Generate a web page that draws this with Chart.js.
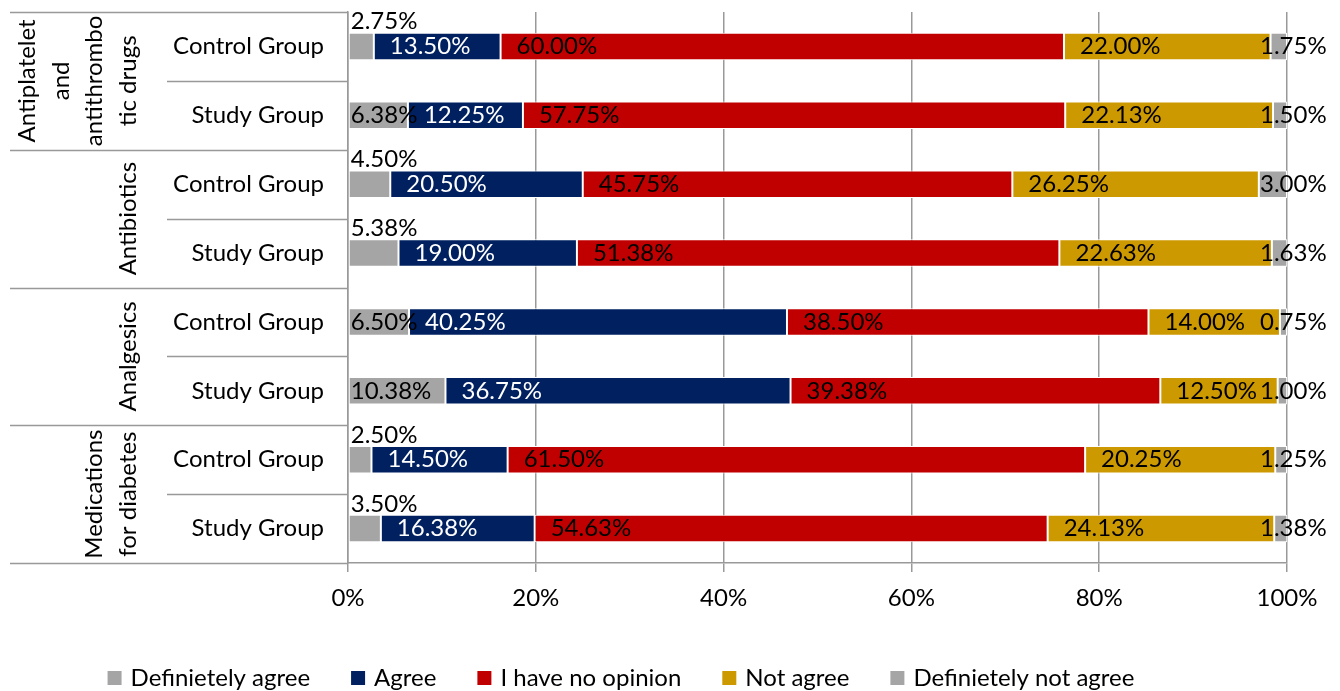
<!DOCTYPE html>
<html>
<head>
<meta charset="utf-8">
<script src="https://cdn.jsdelivr.net/npm/chart.js@4.4.1/dist/chart.umd.min.js"></script>
<style>
    body { margin: 0; background: #fff; }
    #wrap { width: 1340px; height: 691px; }
</style>
</head>
<body>
<div id="wrap"><canvas id="surveyChart" width="1340" height="691"></canvas></div>
<script>
'use strict';

// chart data

const rowLabels = ['Control Group', 'Study Group', 'Control Group', 'Study Group', 'Control Group', 'Study Group', 'Control Group', 'Study Group']
const groupLabels = [
    ['Antiplatelet', 'and', 'antithrombo', 'tic drugs'],
    ['Antibiotics'],
    ['Analgesics'],
    ['Medications', 'for diabetes']
]
const seriesNames = ['Definietely agree', 'Agree', 'I have no opinion', 'Not agree', 'Definietely not agree']

const definitelyAgree = [2.75, 6.38, 4.50, 5.38, 6.50, 10.38, 2.50, 3.50]
const agree = [13.50, 12.25, 20.50, 19.00, 40.25, 36.75, 14.50, 16.38]
const noOpinion = [60.00, 57.75, 45.75, 51.38, 38.50, 39.38, 61.50, 54.63]
const notAgree = [22.00, 22.13, 26.25, 22.63, 14.00, 12.50, 20.25, 24.13]
const definitelyNotAgree = [1.75, 1.50, 3.00, 1.63, 0.75, 1.00, 1.25, 1.38]

const xTicks = [0, 20, 40, 60, 80, 100]

const seriesColors = ['#a5a5a5', '#002060', '#c00000', '#cc9900', '#a5a5a5']
const labelColors = ['#000', '#fff', '#000', '#000', '#000']

const fontFamily = 'Lato, "Open Sans", sans-serif'
const fontSize = 24
const lineColor = '#999999'

const allSeries = [definitelyAgree, agree, noOpinion, notAgree, definitelyNotAgree]

// data labels, excel style "inside base"

const dataLabelsPlugin = {
    id: 'dataLabels',
    afterDatasetsDraw(chart) {
        const ctx = chart.ctx
        const area = chart.chartArea
        ctx.save()
        ctx.font = `${fontSize}px ${fontFamily}`
        ctx.textBaseline = 'middle'
        ctx.textAlign = 'left'

        chart.data.datasets.forEach((dataset, dsIndex) => {
            const meta = chart.getDatasetMeta(dsIndex)
            meta.data.forEach((bar, i) => {
                const value = dataset.data[i]
                const text = value.toFixed(2) + '%'
                const start = Math.min(bar.x, bar.base)
                let x = start + 16
                let y = bar.y

                if (dsIndex === 0) {
                    x = start + 2
                    if (value < 6) {
                        y = bar.y - bar.height / 2 - 11
                    }
                } else if (dsIndex === 4) {
                    x = area.right - 27
                }

                ctx.fillStyle = labelColors[dsIndex]
                ctx.fillText(text, x, y)
            })
        })
        ctx.restore()
    }
}

// grouped category axis + legend

const groupAxisPlugin = {
    id: 'groupAxis',
    afterDraw(chart) {
        const ctx = chart.ctx
        const area = chart.chartArea
        const yScale = chart.scales.y
        const axisX = area.left
        const outerLeft = 10
        const innerLeft = 167

        const boundary = i => {
            if (i <= 0) return area.top
            if (i >= rowLabels.length) return area.bottom
            return (yScale.getPixelForValue(i - 1) + yScale.getPixelForValue(i)) / 2
        }

        ctx.save()
        ctx.strokeStyle = lineColor
        ctx.lineWidth = 1.5

        for (let i = 0; i <= rowLabels.length; i++) {
            const y = Math.round(boundary(i)) + 0.5
            const left = i % 2 === 0 ? outerLeft : innerLeft
            ctx.beginPath()
            ctx.moveTo(left, y)
            ctx.lineTo(axisX, y)
            ctx.stroke()
        }

        // rotated group names

        ctx.fillStyle = '#000'
        ctx.font = `${fontSize}px ${fontFamily}`
        ctx.textAlign = 'center'
        ctx.textBaseline = 'middle'
        const lastLineX = 128
        const lineStep = 33.5

        groupLabels.forEach((lines, g) => {
            const yMid = (boundary(g * 2) + boundary(g * 2 + 2)) / 2
            lines.forEach((line, k) => {
                const x = lastLineX - (lines.length - 1 - k) * lineStep
                ctx.save()
                ctx.translate(x, yMid)
                ctx.rotate(-Math.PI / 2)
                ctx.fillText(line, 0, 0)
                ctx.restore()
            })
        })

        // legend

        const legendY = 678
        const box = 14
        const boxGap = 9
        const itemGap = 41
        const widths = seriesNames.map(name => ctx.measureText(name).width)
        const total = widths.reduce((sum, w) => sum + box + boxGap + w, 0) + itemGap * (seriesNames.length - 1)
        let x = 621 - total / 2

        ctx.textAlign = 'left'
        seriesNames.forEach((name, i) => {
            ctx.fillStyle = seriesColors[i]
            ctx.fillRect(x, legendY - box / 2, box, box)
            ctx.fillStyle = '#000'
            ctx.fillText(name, x + box + boxGap, legendY)
            x += box + boxGap + widths[i] + itemGap
        })

        ctx.restore()
    }
}

const datasets = allSeries.map((values, i) => ({
    label: seriesNames[i],
    data: values,
    backgroundColor: seriesColors[i],
    borderColor: '#ffffff',
    borderWidth: 1,
    borderSkipped: false,
    barPercentage: 0.4,
    categoryPercentage: 1
}))

new Chart(document.getElementById('surveyChart'), {
    type: 'bar',
    data: {
        labels: rowLabels,
        datasets: datasets
    },
    options: {
        responsive: false,
        animation: false,
        indexAxis: 'y',
        layout: {
            padding: { left: 10, top: 12, right: 53, bottom: 78 }
        },
        plugins: {
            legend: { display: false },
            tooltip: { enabled: false }
        },
        scales: {
            x: {
                stacked: true,
                min: 0,
                max: 100,
                afterBuildTicks: scale => {
                    scale.ticks = xTicks.map(v => ({ value: v }))
                },
                afterFit: scale => {
                    scale.height = 50
                },
                grid: {
                    color: lineColor,
                    lineWidth: 1.5,
                    drawTicks: true,
                    tickLength: 9
                },
                border: { display: true, color: lineColor, width: 1.5 },
                ticks: {
                    padding: 12,
                    color: '#000',
                    font: { family: fontFamily, size: fontSize },
                    callback: value => value + '%'
                }
            },
            y: {
                stacked: true,
                afterFit: scale => {
                    scale.width = 338
                    scale.paddingTop = 0
                    scale.paddingBottom = 0
                },
                grid: { display: false, drawTicks: false },
                border: { display: true, color: lineColor, width: 1.5 },
                ticks: {
                    padding: 24,
                    color: '#000',
                    font: { family: fontFamily, size: fontSize }
                }
            }
        }
    },
    plugins: [dataLabelsPlugin, groupAxisPlugin]
})
</script>
</body>
</html>
